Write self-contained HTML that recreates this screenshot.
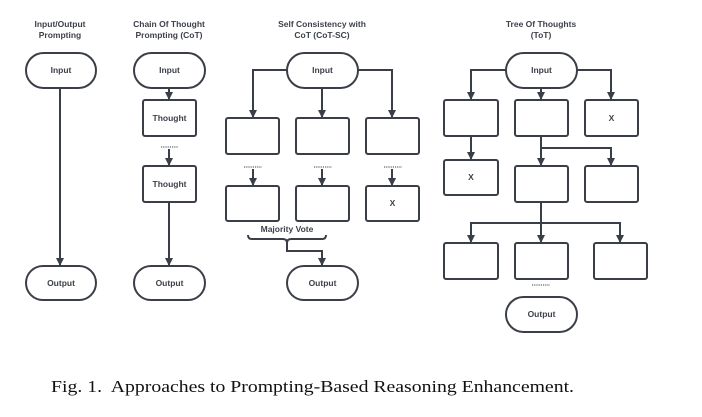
<!DOCTYPE html>
<html><head><meta charset="utf-8"><style>
html,body{margin:0;padding:0;background:#fff;width:702px;height:417px;overflow:hidden}
svg{display:block}
.t{font-family:"Liberation Sans",sans-serif;font-weight:bold;font-size:8.5px;fill:#3d4149;text-anchor:middle}
.l{fill:none;stroke:#3a3f47;stroke-width:2}
.b{fill:#fff;stroke:#3a3f47;stroke-width:2}
.d{stroke:#3a3f47;stroke-width:1;stroke-dasharray:1.2 1;fill:none}
</style></head><body>
<svg width="702" height="417" viewBox="0 0 702 417" xmlns="http://www.w3.org/2000/svg">
<defs><marker id="a" markerWidth="8" markerHeight="8" refX="4" refY="7" orient="auto" markerUnits="userSpaceOnUse" viewBox="0 0 8 8"><path d="M0,0 L8,0 L4,8 z" fill="#3a3f47" transform="rotate(-90 4 4)"/></marker>
<marker id="ar" markerWidth="8" markerHeight="8" refX="7" refY="4" orient="auto" markerUnits="userSpaceOnUse" viewBox="0 0 8 8"><path d="M0,0 L8,4 L0,8 z" fill="#3a3f47"/></marker></defs>

<!-- titles -->
<text class="t" x="60" y="27">Input/Output</text><text class="t" x="60" y="38">Prompting</text>
<text class="t" x="169" y="27">Chain Of Thought</text><text class="t" x="169" y="38">Prompting (CoT)</text>
<text class="t" x="322" y="27">Self Consistency with</text><text class="t" x="322" y="38">CoT (CoT-SC)</text>
<text class="t" x="541" y="27">Tree Of Thoughts</text><text class="t" x="541" y="38">(ToT)</text>

<!-- col1 -->
<path class="l" d="M60,88 V265" marker-end="url(#ar)"/>
<rect class="b" x="26" y="53" width="70" height="35" rx="17.5"/><text class="t" x="61" y="73">Input</text>
<rect class="b" x="26" y="266" width="70" height="34" rx="17"/><text class="t" x="61" y="286">Output</text>

<!-- col2 -->
<path class="l" d="M169,88 V99" marker-end="url(#ar)"/>
<path class="d" d="M161,147 H178"/>
<path class="l" d="M169,149 V165" marker-end="url(#ar)"/>
<path class="l" d="M169,202 V265" marker-end="url(#ar)"/>
<rect class="b" x="134" y="53" width="71" height="35" rx="17.5"/><text class="t" x="169.5" y="73">Input</text>
<rect class="b" x="143" y="100" width="53" height="36" rx="2"/><text class="t" x="169.5" y="121">Thought</text>
<rect class="b" x="143" y="166" width="53" height="36" rx="2"/><text class="t" x="169.5" y="187">Thought</text>
<rect class="b" x="134" y="266" width="71" height="34" rx="17"/><text class="t" x="169.5" y="286">Output</text>

<!-- col3 -->
<path class="l" d="M287,70 H253 V117" marker-end="url(#ar)"/>
<path class="l" d="M322,88 V117" marker-end="url(#ar)"/>
<path class="l" d="M358,70 H392 V117" marker-end="url(#ar)"/>
<rect class="b" x="287" y="53" width="71" height="35" rx="17.5"/><text class="t" x="322.5" y="73">Input</text>
<rect class="b" x="226" y="118" width="53" height="36" rx="2"/>
<rect class="b" x="296" y="118" width="53" height="36" rx="2"/>
<rect class="b" x="366" y="118" width="53" height="36" rx="2"/>
<path class="d" d="M244,167 H262 M314,167 H332 M384,167 H402"/>
<path class="l" d="M253,169 V185 M322,169 V185 M392,169 V185" marker-end="url(#ar)"/>
<path class="l" d="M253,169 V185" marker-end="url(#ar)"/>
<path class="l" d="M322,169 V185" marker-end="url(#ar)"/>
<path class="l" d="M392,169 V185" marker-end="url(#ar)"/>
<rect class="b" x="226" y="186" width="53" height="35" rx="2"/>
<rect class="b" x="296" y="186" width="53" height="35" rx="2"/>
<rect class="b" x="366" y="186" width="53" height="35" rx="2"/><text class="t" x="392.5" y="206">X</text>
<text class="t" x="287" y="232">Majority Vote</text>
<path class="l" d="M248,235 Q248,239 252,239 H283 Q287,239 287,243 Q287,239 291,239 H322 Q326,239 326,235"/>
<path class="l" d="M287,242 V251 H322 V265" marker-end="url(#ar)"/>
<rect class="b" x="287" y="266" width="71" height="34" rx="17"/><text class="t" x="322.5" y="286">Output</text>

<!-- col4 -->
<path class="l" d="M506,70 H471 V99" marker-end="url(#ar)"/>
<path class="l" d="M541,88 V99" marker-end="url(#ar)"/>
<path class="l" d="M577,70 H611 V99" marker-end="url(#ar)"/>
<rect class="b" x="506" y="53" width="71" height="35" rx="17.5"/><text class="t" x="541.5" y="73">Input</text>
<rect class="b" x="444" y="100" width="54" height="36" rx="2"/>
<rect class="b" x="515" y="100" width="53" height="36" rx="2"/>
<rect class="b" x="585" y="100" width="53" height="36" rx="2"/><text class="t" x="611.5" y="121">X</text>
<path class="l" d="M471,136 V159" marker-end="url(#ar)"/>
<path class="l" d="M541,136 V165" marker-end="url(#ar)"/>
<path class="l" d="M541,148 H611 V165" marker-end="url(#ar)"/>
<rect class="b" x="444" y="160" width="54" height="35" rx="2"/><text class="t" x="471" y="180">X</text>
<rect class="b" x="515" y="166" width="53" height="36" rx="2"/>
<rect class="b" x="585" y="166" width="53" height="36" rx="2"/>
<path class="l" d="M541,202 V242" marker-end="url(#ar)"/>
<path class="l" d="M541,223 H471 V242" marker-end="url(#ar)"/>
<path class="l" d="M541,223 H620 V242" marker-end="url(#ar)"/>
<rect class="b" x="444" y="243" width="54" height="36" rx="2"/>
<rect class="b" x="515" y="243" width="53" height="36" rx="2"/>
<rect class="b" x="594" y="243" width="53" height="36" rx="2"/>
<path class="d" d="M532,285 H550"/>
<rect class="b" x="506" y="297" width="71" height="35" rx="17.5"/><text class="t" x="541.5" y="317">Output</text>

<text x="51" y="392" font-family="'Liberation Serif',serif" font-size="17" fill="#111" textLength="523" lengthAdjust="spacingAndGlyphs" xml:space="preserve">Fig. 1.  Approaches to Prompting-Based Reasoning Enhancement.</text>
</svg>
</body></html>
